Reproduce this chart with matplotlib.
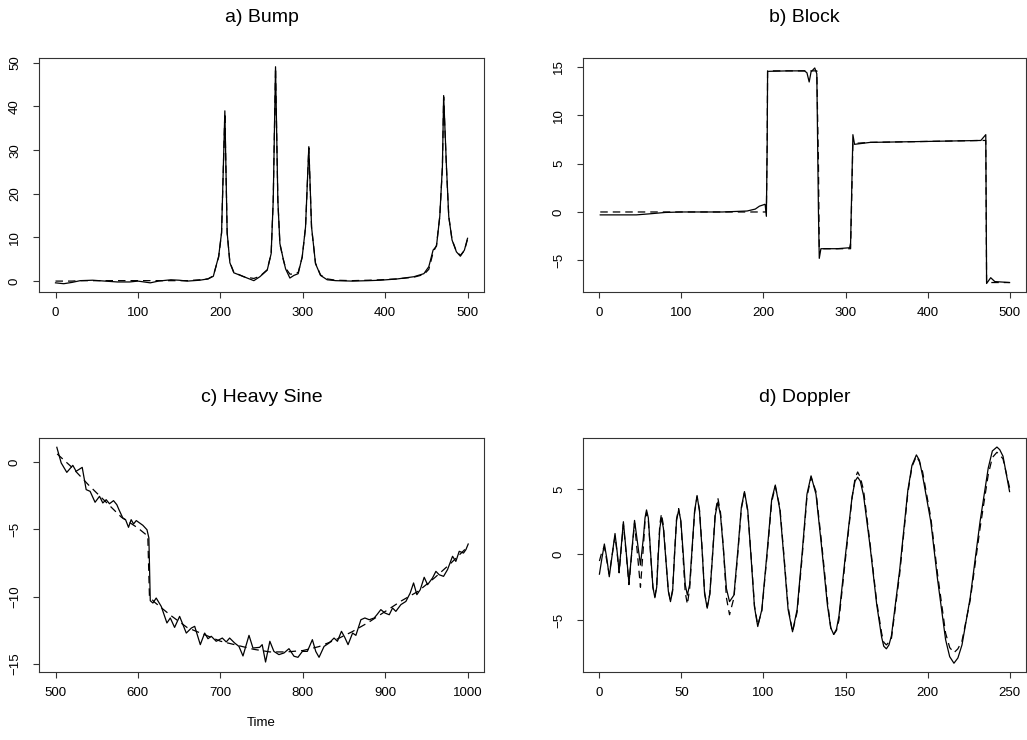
import matplotlib
matplotlib.use("Agg")
import matplotlib.pyplot as plt

plt.rcParams['font.family'] = ['Liberation Sans', 'DejaVu Sans']

# a) Bump
bump_x = [0, 10, 20, 30, 45, 60, 75, 90, 100, 115, 125, 140, 150, 160, 175, 185,
          191.5, 198, 201.5, 205.5, 208.3, 211.6, 216.4, 228.5, 240.7, 248, 256.9,
          261.7, 264.2, 267, 269.8, 272.3, 276.3, 279.2, 284.4, 289.3, 294.5, 299.4,
          303.4, 307.4, 310.7, 315.5, 321.6, 329.7, 340, 360, 380, 394.4, 415, 434.9,
          447, 453, 458.2, 462.3, 466.3, 469.5, 471, 474.4, 477.2, 481.2, 486.5,
          491.3, 496.2, 500]
bump_fit = [-0.4, -0.6, -0.3, 0.1, 0.2, 0.0, -0.2, -0.2, 0.0, -0.4, 0.0, 0.3, 0.2,
            0.0, 0.2, 0.5, 1.1, 5.7, 11.1, 39.0, 11.1, 4.2, 1.9, 1.0, 0.1, 1.0, 2.5,
            6.3, 18.5, 49.1, 18.5, 8.6, 5.1, 2.8, 0.7, 1.3, 1.7, 5.6, 12.4, 30.8,
            12.4, 4.0, 1.3, 0.3, 0.1, 0.0, 0.1, 0.2, 0.5, 1.0, 1.7, 3.3, 7.1, 8.0,
            14.8, 26.3, 42.5, 26.3, 14.8, 9.4, 6.7, 5.7, 7.1, 9.8]
bump_true = [0.0, 0.0, 0.0, 0.1, 0.1, 0.1, 0.1, 0.1, 0.1, 0.1, 0.1, 0.1, 0.1,
             0.1, 0.3, 0.5, 1.2, 5.5, 11.0, 38.5, 11.0, 4.3, 2.0, 1.0, 0.6, 1.1,
             2.6, 6.3, 18.5, 48.8, 18.5, 8.5, 5.0, 3.0, 1.6, 1.6, 2.0, 5.5, 12.3,
             30.5, 12.3, 4.1, 1.4, 0.5, 0.2, 0.1, 0.2, 0.3, 0.5, 0.9, 1.5, 2.7,
             6.5, 8.2, 14.8, 26.0, 42.2, 26.0, 14.8, 9.5, 6.8, 5.9, 7.0, 9.6]

# b) Block
block_x = [1, 20, 45, 60, 80, 100, 150, 180, 190, 195, 202, 203.5, 204.5, 205,
           230, 250, 253, 255.7, 258, 262.5, 265, 267, 268, 270, 290, 305, 306.2,
           309, 311, 330, 400, 465, 471, 472, 477, 482, 500]
block_fit = [-0.3, -0.3, -0.3, -0.2, -0.05, 0.0, 0.0, 0.1, 0.3, 0.6, 0.8, -0.45,
             7.0, 14.55, 14.6, 14.6, 14.4, 13.45, 14.5, 14.9, 14.3, 0.0, -4.8,
             -3.8, -3.8, -3.7, -3.2, 8.0, 7.0, 7.2, 7.3, 7.4, 8.0, -7.4, -6.8,
             -7.2, -7.3]
block_true = [0.0, 0.0, 0.0, 0.0, 0.0, 0.0, 0.0, 0.0, 0.0, 0.0, 0.0, 0.0, 7.0,
              14.6, 14.6, 14.6, 14.6, 14.6, 14.6, 14.6, 14.6, 5.0, -3.7, -3.8,
              -3.8, -3.8, -3.8, 7.1, 7.1, 7.2, 7.3, 7.4, 7.4, -7.3, -7.3, -7.3,
              -7.3]

# c) Heavy Sine
hs_x = [501.6, 506.9, 513.7, 521, 525, 532.4, 537.2, 542, 548, 553.4, 557.4,
        561.5, 565.5, 570.4, 574.4, 577, 581.7, 585, 588.6, 591.8, 594.7, 598,
        606, 611, 613.3, 615, 618.2, 622.2, 628.3, 635.2, 639.3, 644.5, 650.6,
        658.7, 664.8, 668.9, 675.7, 681, 685, 689, 695, 702.4, 707.2, 711.3,
        717.4, 722.6, 727.5, 734.8, 739.6, 747.7, 750.8, 754.9, 760.1, 765,
        771.1, 777.2, 783.3, 789.4, 794.2, 799.6, 805.6, 811.7, 815.8, 819.8,
        825.9, 832, 838, 842.1, 847, 851, 855, 860.5, 864.5, 870.6, 875.4,
        880.7, 886.7, 890, 894.8, 899.7, 905, 909, 913, 919.1, 925.2, 930.4,
        934.5, 938.5, 942.6, 947.4, 951.5, 957.5, 961.6, 965.6, 970.9, 975.7,
        981.8, 985.8, 989.9, 995.1, 998, 1000.8]
hs_fit = [1.09, -0.07, -0.77, -0.25, -0.69, -0.4, -2.05, -2.18, -2.99, -2.55,
          -3.04, -2.8, -3.1, -2.87, -3.17, -3.54, -4.16, -4.28, -4.85, -4.28,
          -4.6, -4.35, -4.7, -5.03, -5.64, -10.3, -10.47, -10.1, -10.72, -11.95,
          -11.58, -12.28, -11.46, -12.7, -12.33, -12.2, -13.56, -12.7, -13.12,
          -12.94, -13.31, -13.07, -13.36, -13.07, -13.44, -13.69, -14.4, -12.87,
          -13.81, -13.76, -13.56, -14.85, -13.31, -14.06, -14.3, -14.18, -13.86,
          -14.42, -14.5, -14.06, -14.06, -13.19, -14.06, -14.5, -13.69, -13.44,
          -13.07, -13.31, -12.57, -13.02, -13.56, -12.7, -12.87, -11.71, -11.58,
          -11.71, -11.58, -11.34, -10.96, -11.21, -11.34, -10.84, -11.09, -10.59,
          -10.35, -9.73, -8.98, -9.85, -9.48, -8.56, -9.11, -8.61, -8.12, -8.37,
          -8.49, -7.99, -7.0, -7.38, -6.63, -6.76, -6.51, -6.09]
hs_true_x = [502, 520, 540, 560, 580, 600, 612, 614, 620, 640, 660, 680, 700, 720,
             740, 760, 780, 800, 820, 840, 860, 880, 900, 920, 940, 960, 980, 1000]
hs_true = [0.6, -0.4, -1.7, -2.9, -4.1, -4.9, -5.5, -10.0, -10.4, -11.4, -12.3,
           -12.8, -13.3, -13.6, -13.9, -14.1, -14.1, -14.0, -13.7, -13.2, -12.6,
           -11.9, -11.1, -10.3, -9.6, -8.6, -7.5, -6.3]

# d) Doppler
dop_x = [0, 1.5, 3, 4.5, 6, 7.8, 9.5, 10.8, 12, 13.3,
         14.6, 16.3, 18, 19.7, 21.4, 23.2, 25, 26.8, 27.8, 28.7,
         29.8, 31.2, 32.6, 33.8, 34.9, 35.8, 36.8, 37.8, 39, 40.5,
         42, 43.3, 44.6, 45.8, 47, 48.3, 49.6, 51, 52.3, 53.6,
         55, 56.5, 58, 59.5, 61, 62.5, 64.1, 65.7, 67.3, 69,
         70.6, 72.2, 73.8, 75.5, 77.4, 79.3, 82, 84.5, 86.5, 88.4,
         90.4, 92.5, 94.5, 96.5, 99, 102, 105, 107.2, 110, 112.5,
         115, 117.7, 120.5, 123.5, 126.5, 129, 132, 135.5, 139, 141,
         142.8, 144.5, 146, 150, 154, 155.8, 157.4, 159, 161, 165,
         169, 172, 173.3, 174.9, 176.5, 178, 183, 188, 190.5, 193.2,
         195, 197, 202, 206, 211, 213.5, 216.1, 218.5, 221, 226,
         232, 237, 239.5, 242.3, 244, 246, 250]
dop_fit = [-1.5, -0.3, 0.8, -0.3, -1.7, 0, 1.6, 0.2, -1.3, 0.6,
           2.5, 0.2, -2.2, 0.2, 2.6, 0.9, -0.8, 1.3, 2.8, 3.4,
           2.8, 0.1, -2.5, -3.3, -2.5, -0.2, 2.0, 2.8, 2.0, -0.4,
           -2.8, -3.6, -2.8, 0, 2.6, 3.4, 2.6, 0.2, -2.3, -3.1,
           -2.3, 0.5, 3.3, 4.5, 3.3, 0.5, -3.0, -4.1, -3.0, 0,
           3.0, 4.0, 3.0, 0.5, -2.6, -3.6, -3.1, 0.5, 3.6, 4.8,
           3.4, -0.35, -4.0, -5.5, -4.2, -0.1, 4.2, 5.3, 3.4, -0.3,
           -4.2, -5.9, -4.2, 0.0, 4.6, 6.0, 4.6, 0.5, -3.9, -5.6,
           -6.1, -5.7, -4.7, 0.0, 4.4, 5.6, 5.9, 5.6, 4.5, 0.6,
           -3.8, -6.3, -7.0, -7.2, -6.9, -6.2, -1.2, 4.9, 6.8, 7.6,
           7.2, 6.0, 2.5, -1.8, -6.5, -7.8, -8.3, -7.9, -6.9, -3.3,
           2.5, 6.6, 7.9, 8.2, 8.0, 7.5, 4.8]
dop_true = [-0.5, 0.2, 0.6, -0.5, -1.5, 0, 1.4, 0.1, -1.4, 0.5,
            2.3, 0.1, -2.3, 0.1, 2.4, 0.0, -2.5, 0.6, 2.6, 3.2,
            2.6, 0.0, -2.5, -3.2, -2.4, 0.0, 2.3, 3.1, 2.2, -0.4,
            -2.8, -3.5, -2.7, 0.1, 2.7, 3.5, 2.5, -0.2, -2.9, -3.8,
            -2.6, 0.3, 3.2, 4.4, 3.4, 0.6, -2.9, -4.0, -3.0, 0.1,
            3.2, 4.3, 3.2, 0.6, -3.3, -4.6, -3.3, 0.3, 3.5, 4.7,
            3.3, -0.2, -3.9, -5.4, -4.3, -0.3, 4.0, 5.2, 3.6, -0.1,
            -4.0, -5.9, -4.4, -0.3, 4.4, 5.9, 4.8, 0.8, -3.6, -5.6,
            -6.1, -5.8, -5.0, -0.3, 4.3, 5.8, 6.3, 5.9, 4.9, 0.8,
            -3.6, -6.0, -6.7, -6.9, -6.7, -6.4, -1.5, 4.7, 6.7, 7.5,
            7.1, 6.3, 2.8, -1.4, -6.0, -7.1, -7.5, -7.2, -6.6, -3.5,
            2.0, 6.1, 7.4, 7.8, 7.6, 7.3, 5.1]

panels = [
    ("a) Bump", bump_x, bump_fit, bump_x, bump_true,
     (-20, 520), (-2.5, 51.1), range(0, 501, 100), range(0, 51, 10), None),
    ("b) Block", block_x, block_fit, block_x, block_true,
     (-20, 520), (-8.28, 15.93), range(0, 501, 100), range(-5, 16, 5), None),
    ("c) Heavy Sine", hs_x, hs_fit, hs_true_x, hs_true,
     (480, 1020), (-15.59, 1.78), range(500, 1001, 100), range(-15, 1, 5), "Time"),
    ("d) Doppler", dop_x, dop_fit, dop_x, dop_true,
     (-10, 260), (-8.97, 8.89), range(0, 251, 50), range(-5, 6, 5), None),
]

rects = [
    [0.038, 0.6054, 0.4333, 0.3162],
    [0.5677, 0.6054, 0.4313, 0.3162],
    [0.038, 0.0919, 0.4333, 0.3162],
    [0.5677, 0.0919, 0.4313, 0.3162],
]

fig = plt.figure(figsize=(10.27, 7.4), dpi=100)
for rect, (title, x1, y1, x2, y2, xl, yl, xt, yt, xlab) in zip(rects, panels):
    ax = fig.add_axes(rect)
    ax.plot(x2, y2, color="black", lw=0.9, dashes=(6, 4))
    ax.plot(x1, y1, color="black", lw=0.9)
    ax.set_xlim(xl)
    ax.set_ylim(yl)
    ax.set_xticks(list(xt))
    ax.set_yticks(list(yt))
    ax.tick_params(direction="out", length=4, width=0.8, labelsize=9.5,
                   color="#333333")
    ax.tick_params(axis="x", pad=7)
    ax.tick_params(axis="y", pad=9, labelrotation=90)
    for lab in ax.get_yticklabels():
        lab.set_va("center")
    for s in ax.spines.values():
        s.set_linewidth(0.8)
        s.set_color("#333333")
    ax.set_title(title, fontsize=14, pad=26)
    if xlab:
        ax.set_xlabel(xlab, fontsize=9.5, labelpad=13)

fig.savefig("out.png", dpi=100)
